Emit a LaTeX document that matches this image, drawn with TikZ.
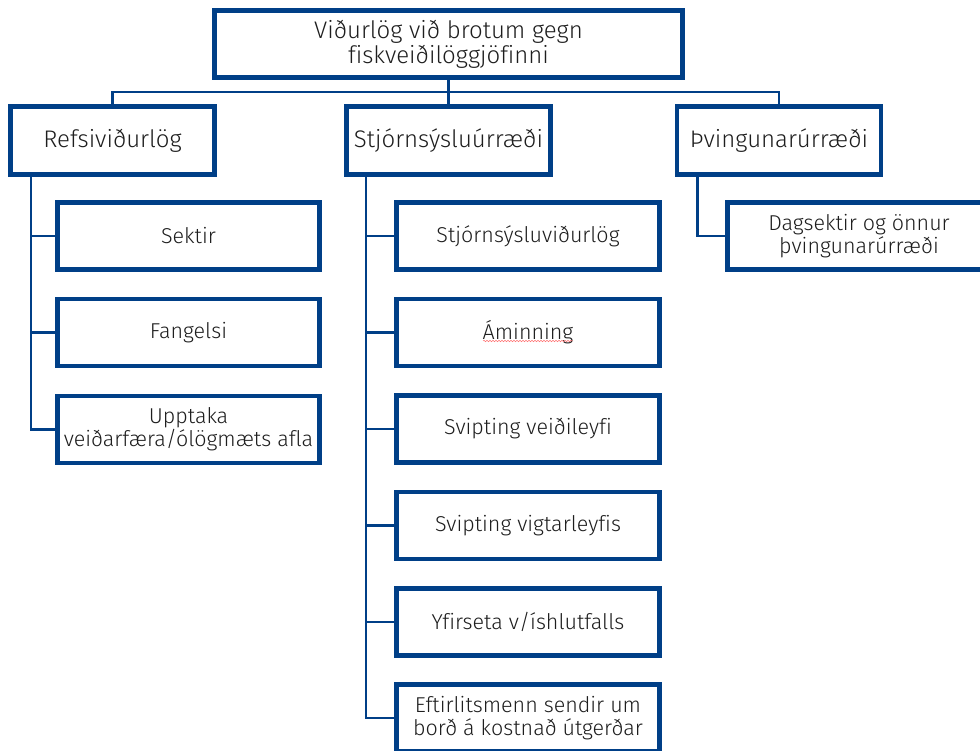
\documentclass[tikz,border=0pt]{standalone}
\usepackage{fontspec}
\setmainfont{Fira Sans Light}[Ligatures=NoCommon]
\usepackage{xcolor}
\usetikzlibrary{decorations.pathmorphing}
\definecolor{boxblue}{RGB}{0,63,135}
\definecolor{textgray}{RGB}{30,30,30}

\begin{document}
\begin{tikzpicture}[x=1pt, y=-1pt,
    box/.style={draw=boxblue, line width=4.7pt, fill=white, align=center, text=textgray,
        inner sep=0pt, font=\fontsize{21.5}{23}\selectfont},
    topbox/.style={box, minimum width=468pt, minimum height=67pt, font=\fontsize{24}{25}\selectfont},
    groupbox/.style={box, minimum width=204pt, minimum height=68pt, font=\fontsize{24}{25}\selectfont},
    itembox/.style={box, minimum width=262.5pt, minimum height=67pt},
    link/.style={draw=boxblue, line width=2.5pt}]
            \useasboundingbox (0,0) rectangle (980,751);
            \clip (0,0) rectangle (980,751);
            % top level
            \node[topbox] (top) at (448.5,44) {Viðurlög við brotum gegn\\fiskveiðilöggjöfinni};
            \node[groupbox] (refs) at (112.5,140.5) {Refsiviðurlög};
            \node[groupbox] (stjorn) at (448.5,140.5) {Stjórnsýsluúrræði};
            \node[groupbox] (thving) at (779,140.5) {Þvingunarúrræði};
            % refsiviðurlög
            \node[itembox] (sektir) at (188.5,236) {Sektir};
            \node[itembox] (fangelsi) at (188.5,332.5) {Fangelsi};
            \node[itembox] (upptaka) at (188.5,429.5) {Upptaka\\veiðarfæra/ólögmæts afla};
            % stjórnsýsluúrræði
            \node[itembox] (vidurlog) at (528,236) {Stjórnsýsluviðurlög};
            \node[itembox] (aminning) at (528,332.5) {Áminning};
            \node[itembox] (veidileyfi) at (528,429) {Svipting veiðileyfi};
            \node[itembox] (vigtar) at (528,525.5) {Svipting vigtarleyfis};
            \node[itembox] (yfirseta) at (528,622) {Yfirseta v/íshlutfalls};
            \node[itembox] (eftirlit) at (528,718) {Eftirlitsmenn sendir um\\borð á kostnað útgerðar};
            % þvingunarúrræði
            \node[itembox] (dagsektir) at (859,236) {Dagsektir og önnur\\þvingunarúrræði};
            % connectors
            \coordinate (bar) at (0,92);
            \draw[link] (top.south) -- (stjorn.north);
            \draw[link] (refs.north) |- (bar -| top.south) -| (thving.north);
            \coordinate (refspine) at ([xshift=23pt]refs.south west);
            \coordinate (stjspine) at ([xshift=22pt]stjorn.south west);
            \coordinate (thvspine) at ([xshift=23pt]thving.south west);
            \draw[link] (refspine) |- (upptaka.west);
            \draw[link] (sektir.west -| refspine) -- (sektir.west);
            \draw[link] (fangelsi.west -| refspine) -- (fangelsi.west);
            \draw[link] (stjspine) |- (eftirlit.west);
            \draw[link] (vidurlog.west -| stjspine) -- (vidurlog.west);
            \draw[link] (aminning.west -| stjspine) -- (aminning.west);
            \draw[link] (veidileyfi.west -| stjspine) -- (veidileyfi.west);
            \draw[link] (vigtar.west -| stjspine) -- (vigtar.west);
            \draw[link] (yfirseta.west -| stjspine) -- (yfirseta.west);
            \draw[link] (thvspine) |- (dagsektir.west);
            % spelling mark
            \draw[red!55, line width=0.5pt, decorate, decoration={snake, amplitude=0.7pt, segment length=3pt}]
                (483,341) -- (573,341);
        \end{tikzpicture}
\end{document}
